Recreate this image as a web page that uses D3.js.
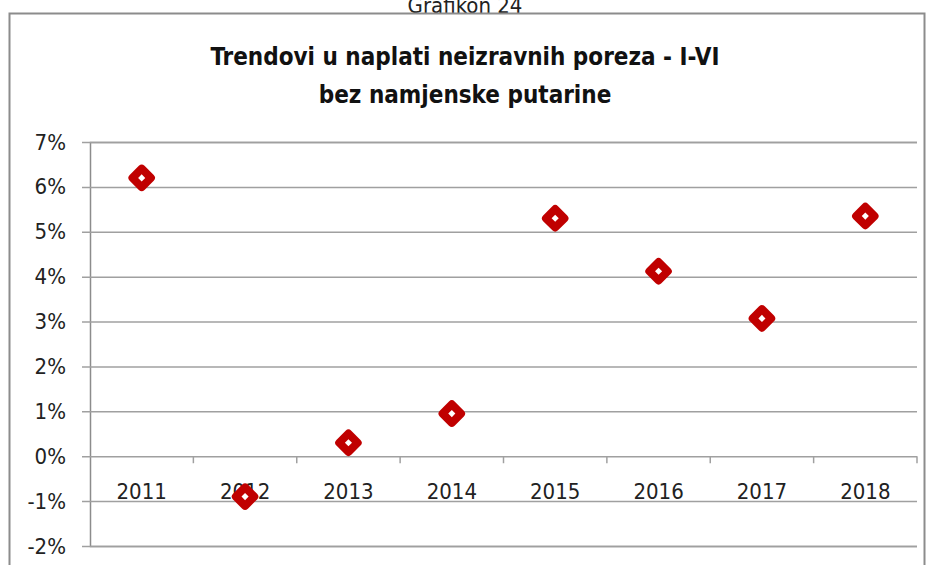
<!DOCTYPE html>
<html>
<head>
<meta charset="utf-8">
<script src="https://cdn.jsdelivr.net/npm/d3@7"></script>
<style>
  body { margin: 0; background: #fff; }
  svg { display: block; }
</style>
</head>
<body>
<svg id="chart" width="928" height="565"></svg>
<script>
// values
const years = ["2011", "2012", "2013", "2014", "2015", "2016", "2017", "2018"];
const growth = [6.2, -0.9, 0.3, 0.95, 5.3, 4.12, 3.07, 5.35];
const yTicks = [-2, -1, 0, 1, 2, 3, 4, 5, 6, 7];
const titleLines = ["Trendovi u naplati neizravnih poreza  - I-VI", "bez namjenske putarine"];
const caption = "Grafikon 24";

const width = 928, height = 565;
const margin = {top: 142, right: 11, bottom: 19, left: 90};
const font = "'DejaVu Sans Condensed', 'Open Sans', sans-serif";

const svg = d3.select("#chart");

svg.append("text")
    .attr("x", 465).attr("y", 13)
    .attr("text-anchor", "middle")
    .style("font", "22px " + font)
    .attr("fill", "#222")
    .text(caption);

// chart frame
svg.append("rect")
    .attr("x", 9.5).attr("y", 13.5)
    .attr("width", 915).attr("height", 560)
    .attr("fill", "none")
    .attr("stroke", "#8c8c8c")
    .attr("stroke-width", 2);

svg.append("g")
    .selectAll("text")
    .data(titleLines)
    .enter().append("text")
        .attr("x", 465)
        .attr("y", (d, i) => 65 + i * 38)
        .attr("text-anchor", "middle")
        .style("font", "bold 24px " + font)
        .attr("fill", "#111")
        .text(d => d);

const x = d3.scaleBand()
    .domain(years)
    .range([margin.left, width - margin.right]);

const y = d3.scaleLinear()
    .domain([-2, 7])
    .range([height - margin.bottom, margin.top]);

// horizontal gridlines + value labels
const yAxis = g => {
    g.attr("transform", `translate(${margin.left}, 0)`)
        .call(d3.axisLeft(y)
            .tickValues(yTicks)
            .tickSize(-(width - margin.right - margin.left))
            .tickPadding(24)
            .tickFormat(d => d + "%"));
    g.select(".domain").attr("stroke", "#8c8c8c").attr("stroke-width", 1.5);
    g.selectAll(".tick line")
        .attr("x1", -8)
        .attr("stroke", "#a0a0a0")
        .attr("stroke-width", 1.5);
    g.selectAll(".tick text")
        .style("font", "22px " + font)
        .attr("fill", "#222");
};
svg.append("g").call(yAxis);

// category axis sits on the 0% line
const xAxis = g => {
    g.attr("transform", `translate(0, ${y(0)})`)
        .call(d3.axisBottom(x).tickSize(0).tickPadding(27).tickSizeOuter(0));
    g.select(".domain").remove();
    g.selectAll(".tick text")
        .style("font", "22px " + font)
        .attr("fill", "#222");
};
svg.append("g").call(xAxis);

svg.append("g")
    .attr("stroke", "#a0a0a0")
    .attr("stroke-width", 1.5)
    .selectAll("line")
    .data(years)
    .enter().append("line")
        .attr("x1", d => x(d) + x.bandwidth())
        .attr("x2", d => x(d) + x.bandwidth())
        .attr("y1", y(0))
        .attr("y2", y(0) + 7);

// diamond markers
const diamond = d3.symbol().type(d3.symbolSquare).size(170);
svg.append("g")
    .selectAll("path")
    .data(years.map((yr, i) => ({yr, v: growth[i]})))
    .enter().append("path")
        .attr("d", diamond)
        .attr("transform", d => `translate(${x(d.yr) + x.bandwidth() / 2}, ${y(d.v)}) rotate(45)`)
        .attr("fill", "#fff")
        .attr("stroke", "#c00000")
        .attr("stroke-width", 8)
        .attr("stroke-linejoin", "round");
</script>
</body>
</html>
